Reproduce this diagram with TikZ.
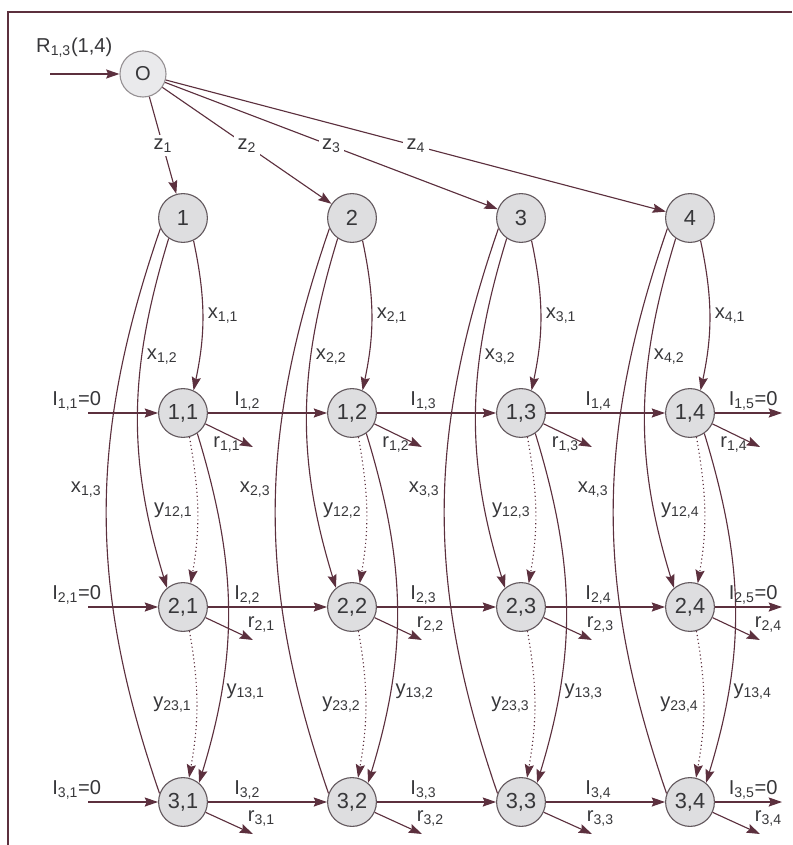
\documentclass[tikz,border=0pt]{standalone}
\usepackage{fontspec}
\setmainfont{Liberation Sans}
\usetikzlibrary{arrows.meta, positioning}
\usepackage{xcolor}
\definecolor{flowline}{RGB}{92,48,62}
\definecolor{cellfill}{RGB}{222,222,224}
\definecolor{cellline}{RGB}{100,90,95}
\definecolor{srcfill}{RGB}{234,234,236}
\definecolor{srcline}{RGB}{150,145,148}
\definecolor{inktext}{RGB}{55,55,58}
\newcommand{\lsub}[1]{\textsubscript{#1}}

\begin{document}
\begin{tikzpicture}[
  x=0.025cm, y=0.025cm,
  font=\fontsize{14.3}{16}\selectfont,
  cell/.style={circle, draw=cellline, fill=cellfill, line width=0.8pt,
               minimum size=1.22cm, inner sep=0pt, text=inktext,
               font=\fontsize{15.5}{17}\selectfont},
  src/.style={circle, draw=srcline, fill=srcfill, line width=0.8pt,
              minimum size=1.15cm, inner sep=0pt, text=inktext},
  arrow/.style={-{Stealth[length=9.5pt, width=6.5pt, inset=1.5pt]},
                draw=flowline, line width=0.8pt},
  plain/.style={draw=flowline, line width=0.8pt},
  dots/.style={arrow, dotted},
  lab/.style={text=inktext},
  zlab/.style={lab, fill=white, inner sep=2.5pt},
  rlab/.style={lab, pos=1, anchor=south west, inner sep=0pt, xshift=-4pt, yshift=5pt}
]
\useasboundingbox (0,0) rectangle (792,-845);

%% Frame
\draw[flowline, line width=1pt] (8,-845) -- (8,-12) -- (792,-12);

%% Source and product nodes
\node[src]  (O)  at (143,-74)  {O};
\node[cell] (c1) at (183,-218) {1};
\node[cell] (c2) at (352,-218) {2};
\node[cell] (c3) at (521,-218) {3};
\node[cell] (c4) at (690,-218) {4};

%% Grid of period nodes
\node[cell] (n11) at (183,-413) {1,1};
\node[cell] (n12) at (352,-413) {1,2};
\node[cell] (n13) at (521,-413) {1,3};
\node[cell] (n14) at (690,-413) {1,4};
\node[cell] (n21) at (183,-607) {2,1};
\node[cell] (n22) at (352,-607) {2,2};
\node[cell] (n23) at (521,-607) {2,3};
\node[cell] (n24) at (690,-607) {2,4};
\node[cell] (n31) at (183,-802) {3,1};
\node[cell] (n32) at (352,-802) {3,2};
\node[cell] (n33) at (521,-802) {3,3};
\node[cell] (n34) at (690,-802) {3,4};

%% Free ends
\coordinate (rin) at (50,-74);
\coordinate (in1) at (88,-413); \coordinate (in2) at (88,-607); \coordinate (in3) at (88,-802);
\coordinate (out1) at (782,-413); \coordinate (out2) at (782,-607); \coordinate (out3) at (782,-802);
\coordinate (r11) at (253,-447); \coordinate (r12) at (422,-447);
\coordinate (r13) at (592,-447); \coordinate (r14) at (760,-447);
\coordinate (r21) at (253,-640); \coordinate (r22) at (422,-640);
\coordinate (r23) at (592,-640); \coordinate (r24) at (760,-640);
\coordinate (r31) at (253,-834); \coordinate (r32) at (422,-834);
\coordinate (r33) at (592,-834); \coordinate (r34) at (760,-834);

%% Source
\draw[arrow] (rin) -- node[lab, above=8pt, pos=0.35] {R\lsub{1,3}(1,4)} (O);
\draw[arrow] (O) -- node[zlab] {z\lsub{1}} (c1);
\draw[arrow] (O) -- node[zlab] {z\lsub{2}} (c2);
\draw[arrow] (O) -- node[zlab] {z\lsub{3}} (c3);
\draw[arrow] (O) -- node[zlab] {z\lsub{4}} (c4);

%% Column 1
\draw[arrow] (c1.-65) to[out=-78,in=78] node[lab, right] {x\lsub{1,1}} (n11.65);
\draw[arrow] (c1.-125) to[out=-107,in=107] node[lab, right, pos=0.33] {x\lsub{1,2}} (n21.130);
\draw[plain] (c1.-155) to[out=-109,in=109] node[lab, left, pos=0.46] {x\lsub{1,3}} (n31.160);
\draw[dots] (n11.-75) to[out=-80,in=80] node[lab, left] {y\lsub{12,1}} (n21.72);
\draw[dots] (n21.-75) to[out=-80,in=80] node[lab, left] {y\lsub{23,1}} (n31.76);
\draw[arrow] (n11.-55) to[out=-73,in=73] node[lab, right, pos=0.75] {y\lsub{13,1}} (n31.50);

%% Column 2
\draw[arrow] (c2.-65) to[out=-78,in=78] node[lab, right] {x\lsub{2,1}} (n12.65);
\draw[arrow] (c2.-125) to[out=-107,in=107] node[lab, right, pos=0.33] {x\lsub{2,2}} (n22.130);
\draw[plain] (c2.-155) to[out=-109,in=109] node[lab, left, pos=0.46] {x\lsub{2,3}} (n32.160);
\draw[dots] (n12.-75) to[out=-80,in=80] node[lab, left] {y\lsub{12,2}} (n22.72);
\draw[dots] (n22.-75) to[out=-80,in=80] node[lab, left] {y\lsub{23,2}} (n32.76);
\draw[arrow] (n12.-55) to[out=-73,in=73] node[lab, right, pos=0.75] {y\lsub{13,2}} (n32.50);

%% Column 3
\draw[arrow] (c3.-65) to[out=-78,in=78] node[lab, right] {x\lsub{3,1}} (n13.65);
\draw[arrow] (c3.-125) to[out=-107,in=107] node[lab, right, pos=0.33] {x\lsub{3,2}} (n23.130);
\draw[plain] (c3.-155) to[out=-109,in=109] node[lab, left, pos=0.46] {x\lsub{3,3}} (n33.160);
\draw[dots] (n13.-75) to[out=-80,in=80] node[lab, left] {y\lsub{12,3}} (n23.72);
\draw[dots] (n23.-75) to[out=-80,in=80] node[lab, left] {y\lsub{23,3}} (n33.76);
\draw[arrow] (n13.-55) to[out=-73,in=73] node[lab, right, pos=0.75] {y\lsub{13,3}} (n33.50);

%% Column 4
\draw[arrow] (c4.-65) to[out=-78,in=78] node[lab, right] {x\lsub{4,1}} (n14.65);
\draw[arrow] (c4.-125) to[out=-107,in=107] node[lab, right, pos=0.33] {x\lsub{4,2}} (n24.130);
\draw[plain] (c4.-155) to[out=-109,in=109] node[lab, left, pos=0.46] {x\lsub{4,3}} (n34.160);
\draw[dots] (n14.-75) to[out=-80,in=80] node[lab, left] {y\lsub{12,4}} (n24.72);
\draw[dots] (n24.-75) to[out=-80,in=80] node[lab, left] {y\lsub{23,4}} (n34.76);
\draw[arrow] (n14.-55) to[out=-73,in=73] node[lab, right, pos=0.75] {y\lsub{13,4}} (n34.50);

%% Row 1: inventory and returns
\draw[arrow] (in1) -- node[lab, above, pos=0, xshift=-8pt, inner sep=1.5pt] {I\lsub{1,1}=0} (n11);
\draw[arrow] (n11) -- node[lab, above, pos=0.33, inner sep=1.5pt] {I\lsub{1,2}} (n12);
\draw[arrow] (n12) -- node[lab, above, pos=0.39, inner sep=1.5pt] {I\lsub{1,3}} (n13);
\draw[arrow] (n13) -- node[lab, above, pos=0.44, inner sep=1.5pt] {I\lsub{1,4}} (n14);
\draw[arrow] (n14) -- node[lab, above, pos=0.57, inner sep=1.5pt] {I\lsub{1,5}=0} (out1);
\draw[arrow] (n11) -- node[lab, below, pos=0.45, inner sep=1pt] {r\lsub{1,1}} (r11);
\draw[arrow] (n12) -- node[lab, below, pos=0.45, inner sep=1pt] {r\lsub{1,2}} (r12);
\draw[arrow] (n13) -- node[lab, below, pos=0.45, inner sep=1pt] {r\lsub{1,3}} (r13);
\draw[arrow] (n14) -- node[lab, below, pos=0.45, inner sep=1pt] {r\lsub{1,4}} (r14);

%% Row 2
\draw[arrow] (in2) -- node[lab, above, pos=0, xshift=-8pt, inner sep=1.5pt] {I\lsub{2,1}=0} (n21);
\draw[arrow] (n21) -- node[lab, above, pos=0.33, inner sep=1.5pt] {I\lsub{2,2}} (n22);
\draw[arrow] (n22) -- node[lab, above, pos=0.39, inner sep=1.5pt] {I\lsub{2,3}} (n23);
\draw[arrow] (n23) -- node[lab, above, pos=0.44, inner sep=1.5pt] {I\lsub{2,4}} (n24);
\draw[arrow] (n24) -- node[lab, above, pos=0.57, inner sep=1.5pt] {I\lsub{2,5}=0} (out2);
\draw[arrow] (n21) -- node[rlab] {r\lsub{2,1}} (r21);
\draw[arrow] (n22) -- node[rlab] {r\lsub{2,2}} (r22);
\draw[arrow] (n23) -- node[rlab] {r\lsub{2,3}} (r23);
\draw[arrow] (n24) -- node[rlab] {r\lsub{2,4}} (r24);

%% Row 3
\draw[arrow] (in3) -- node[lab, above, pos=0, xshift=-8pt, inner sep=1.5pt] {I\lsub{3,1}=0} (n31);
\draw[arrow] (n31) -- node[lab, above, pos=0.33, inner sep=1.5pt] {I\lsub{3,2}} (n32);
\draw[arrow] (n32) -- node[lab, above, pos=0.39, inner sep=1.5pt] {I\lsub{3,3}} (n33);
\draw[arrow] (n33) -- node[lab, above, pos=0.44, inner sep=1.5pt] {I\lsub{3,4}} (n34);
\draw[arrow] (n34) -- node[lab, above, pos=0.57, inner sep=1.5pt] {I\lsub{3,5}=0} (out3);
\draw[arrow] (n31) -- node[rlab] {r\lsub{3,1}} (r31);
\draw[arrow] (n32) -- node[rlab] {r\lsub{3,2}} (r32);
\draw[arrow] (n33) -- node[rlab] {r\lsub{3,3}} (r33);
\draw[arrow] (n34) -- node[rlab] {r\lsub{3,4}} (r34);

\end{tikzpicture}
\end{document}
